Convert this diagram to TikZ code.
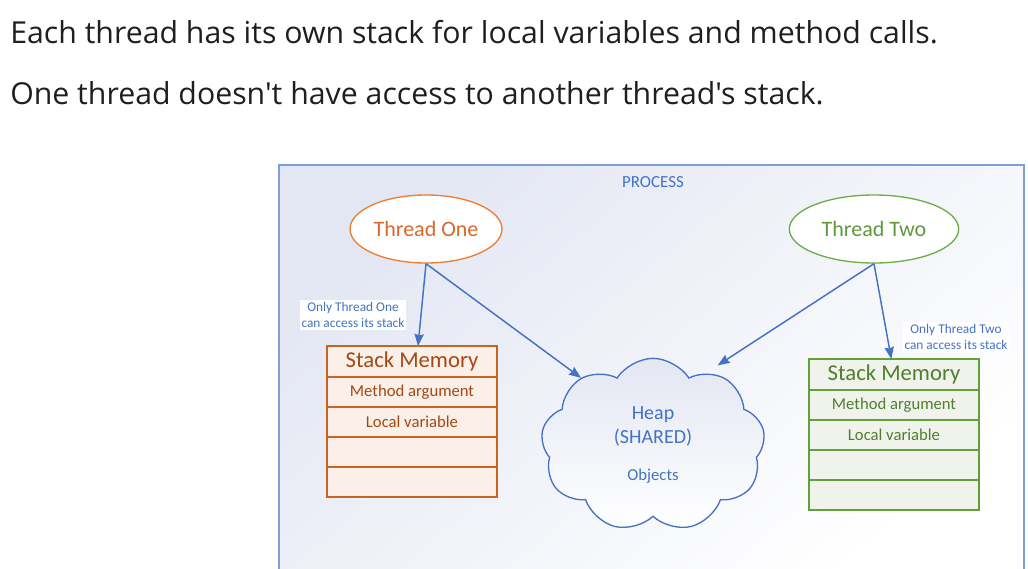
\documentclass[tikz,border=0pt]{standalone}
\usepackage{fontspec}
\setmainfont{Open Sans}[Ligatures=TeXOff]
\newfontfamily\calibri{Carlito}
\usetikzlibrary{positioning,shapes.geometric,shapes.symbols,arrows.meta}
\definecolor{procblue}{HTML}{4472C4}
\definecolor{procline}{HTML}{7F9FD6}
\definecolor{procfill}{HTML}{E3E7F3}
\definecolor{oneline}{HTML}{ED7D31}
\definecolor{onetext}{HTML}{D9692A}
\definecolor{stackaline}{HTML}{C9631F}
\definecolor{stackafill}{HTML}{FBEFEA}
\definecolor{stackatext}{HTML}{A24A12}
\definecolor{twoline}{HTML}{70AD47}
\definecolor{twotext}{HTML}{5E9A3A}
\definecolor{stackbline}{HTML}{62A03C}
\definecolor{stackbfill}{HTML}{EFF3EC}
\definecolor{stackbtext}{HTML}{4F7F2F}

\begin{document}
\begin{tikzpicture}[
    x=0.75pt, y=-0.75pt,
    node distance=0pt,
    thread/.style={ellipse, draw, line width=1pt, minimum width=114pt, minimum height=51pt, inner sep=0pt, font=\calibri\fontsize{16.5}{18}\selectfont},
    stackhead/.style={rectangle, draw, line width=1.4pt, outer sep=0pt, minimum width=127.5pt, minimum height=23.25pt, inner sep=0pt, font=\calibri\fontsize{17}{18}\selectfont},
    stackrow/.style={rectangle, draw, line width=1.4pt, outer sep=0pt, minimum width=127.5pt, minimum height=22.5pt, inner sep=0pt, font=\calibri\fontsize{12.5}{14}\selectfont},
    note/.style={align=center, fill=white, inner sep=1.5pt, text=procblue, font=\calibri\fontsize{10}{12}\selectfont},
    arrow/.style={-{Stealth[length=9pt, width=7pt, inset=1pt]}, line width=1.1pt, draw=procblue}
]
    \useasboundingbox (0,0) rectangle (1028,568);

    % Heading text
    \node[anchor=west, inner sep=0pt, text=black!88, font=\fontsize{22.7}{26}\selectfont] (line1) at (10,32) {Each thread has its own stack for local variables and method calls.};
    \node[anchor=west, inner sep=0pt, text=black!88, font=\fontsize{22.7}{26}\selectfont] (line2) at (10,93) {One thread doesn't have access to another thread's stack.};

    % Process box
    \shade[top color=procfill, bottom color=white, shading angle=40] (279,165) rectangle (1024,572);
    \draw[procline, line width=1pt] (279,572) -- (279,165) -- (1024,165) -- (1024,572);
    \node[text=procblue, font=\calibri\fontsize{12.7}{14}\selectfont] (process) at (653,182) {PROCESS};

    % Threads
    \node[thread, draw=oneline, fill=white, text=onetext] (one) at (426,229) {Thread One};
    \node[thread, draw=twoline, fill=white, minimum width=127pt, text=twotext] (two) at (874,229) {Thread Two};

    % Stack of thread one
    \node[stackhead, draw=stackaline, fill=stackafill, text=stackatext] (sa0) at (412,361.5) {Stack Memory};
    \node[stackrow, draw=stackaline, fill=stackafill, text=stackatext, below=of sa0] (sa1) {Method argument};
    \node[stackrow, draw=stackaline, fill=stackafill, text=stackatext, below=of sa1] (sa2) {Local variable};
    \node[stackrow, draw=stackaline, fill=stackafill, below=of sa2] (sa3) {};
    \node[stackrow, draw=stackaline, fill=stackafill, below=of sa3] (sa4) {};

    % Stack of thread two
    \node[stackhead, draw=stackbline, fill=stackbfill, text=stackbtext] (sb0) at (894,374.5) {Stack Memory};
    \node[stackrow, draw=stackbline, fill=stackbfill, text=stackbtext, below=of sb0] (sb1) {Method argument};
    \node[stackrow, draw=stackbline, fill=stackbfill, text=stackbtext, below=of sb1] (sb2) {Local variable};
    \node[stackrow, draw=stackbline, fill=stackbfill, below=of sb2] (sb3) {};
    \node[stackrow, draw=stackbline, fill=stackbfill, below=of sb3] (sb4) {};

    % Heap
    \node[cloud, cloud puffs=9, cloud puff arc=115, draw=procblue, line width=1pt, top color=procfill, bottom color=white, minimum width=168pt, minimum height=130pt, align=center, text=procblue, font=\calibri\fontsize{15}{18}\selectfont] (heap) at (653,445) {Heap\\(SHARED)\\[10pt]{\fontsize{12.5}{14}\selectfont Objects}};

    % Notes
    \node[note] (notea) at (353,315) {Only Thread One\\can access its stack};
    \node[note] (noteb) at (956,337) {Only Thread Two\\can access its stack};

    % Arrows
    \draw[arrow] (one.south) -- ([xshift=4.5pt]sa0.north);
    \draw[arrow] (one.south) -- (heap.137);
    \draw[arrow] (two.south) -- ([xshift=5pt, yshift=6pt]heap.51);
    \draw[arrow] (two.south) -- ([xshift=-2pt]sb0.north);
\end{tikzpicture}
\end{document}
